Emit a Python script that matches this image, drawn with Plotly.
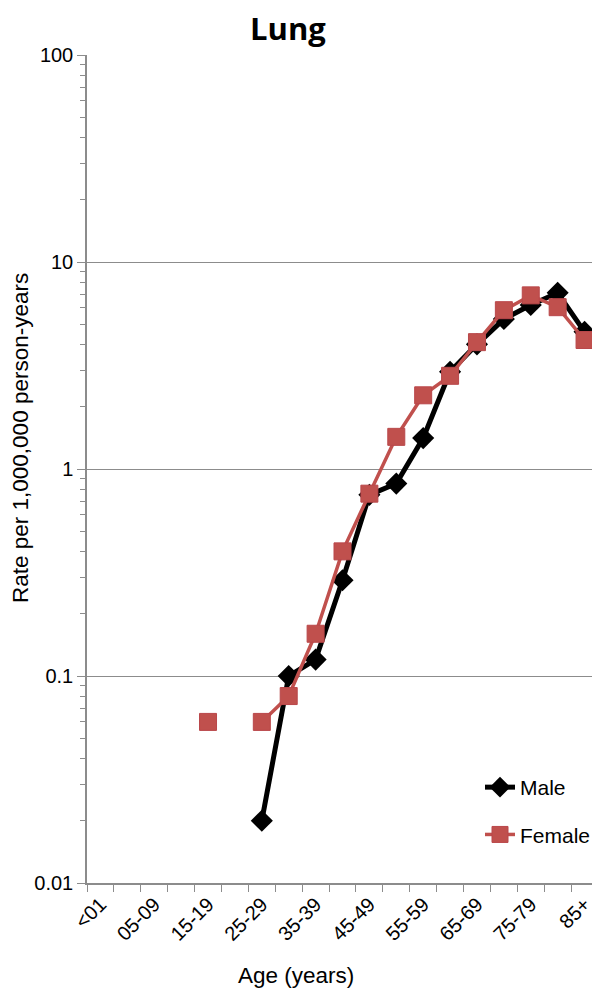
import plotly.graph_objects as go

age_groups = ["<01", "01-04", "05-09", "10-14", "15-19", "20-24", "25-29", "30-34",
              "35-39", "40-44", "45-49", "50-54", "55-59", "60-64", "65-69",
              "70-74", "75-79", "80-84", "85+"]

male = [None, None, None, None, None, None, 0.020, 0.10, 0.12, 0.29, 0.75, 0.85,
        1.41, 2.95, 4.0, 5.3, 6.2, 7.1, 4.6]
female = [None, None, None, None, 0.060, None, 0.060, 0.080, 0.16, 0.40, 0.76, 1.43,
          2.27, 2.82, 4.1, 5.85, 6.9, 6.05, 4.2]

# only every other age group gets a label
tick_text = [a if i % 2 == 0 else "" for i, a in enumerate(age_groups)]

# page body has an 8px margin, so everything is placed 8px up/left
OFF = 8
W, H = 600 - OFF, 989 - OFF
L, R, T, B = 87 - OFF, 2, 55 - OFF, 106
PW, PH = W - L - R, H - T - B
grey = "#8c8c8c"
font = "Liberation Sans, Arial, sans-serif"

def px_x(x):
    return (x - OFF - L) / PW

def px_y(y):
    return (H - B - (y - OFF)) / PH

fig = go.Figure()
fig.add_trace(go.Scatter(
    x=age_groups, y=male, name="Male", mode="lines+markers",
    line=dict(color="black", width=5),
    marker=dict(symbol="diamond", size=17, color="black"),
    connectgaps=False, legendgroup="m"))
fig.add_trace(go.Scatter(
    x=age_groups, y=female, name="Female", mode="lines+markers",
    line=dict(color="#C0504D", width=3.5),
    marker=dict(symbol="square", size=17, color="#C0504D",
                line=dict(color="#B9474A", width=1)),
    connectgaps=False, legendgroup="f"))

fig.update_layout(
    width=W, height=H,
    margin=dict(l=L, r=R, t=T, b=B),
    paper_bgcolor="white", plot_bgcolor="white",
    font=dict(family=font, size=20, color="black"),
    title=dict(text="<b>Lung</b>", x=(288 - OFF) / W, xanchor="center",
               y=1 - (29 - OFF) / H, yanchor="middle", yref="container",
               font=dict(family="Open Sans, sans-serif", size=31, color="black")),
    legend=dict(x=px_x(480), y=px_y(767),
                xanchor="left", yanchor="top", bgcolor="rgba(0,0,0,0)",
                tracegroupgap=17, font=dict(size=21)),
    showlegend=True,
)

fig.update_xaxes(
    type="category", categoryorder="array", categoryarray=age_groups,
    tickmode="array", tickvals=age_groups, ticktext=tick_text,
    tickson="boundaries", ticks="outside", ticklen=7, tickcolor=grey,
    tickangle=-45, tickfont=dict(size=20),
    showline=True, linecolor=grey, linewidth=1.5,
    showgrid=False, zeroline=False, range=[-0.5, 18.5])

fig.update_yaxes(
    type="log", range=[-2, 2], dtick=1, exponentformat="none",
    ticks="outside", ticklen=8, tickcolor=grey, tickfont=dict(size=20),
    minor=dict(ticks="outside", ticklen=5, tickcolor=grey, dtick="D1", showgrid=False),
    showline=True, linecolor=grey, linewidth=1.5,
    showgrid=True, gridcolor=grey, gridwidth=1.2, zeroline=False)

fig.add_annotation(text="Age (years)", x=px_x(296), y=px_y(975),
                   xref="paper", yref="paper", showarrow=False, font=dict(size=22.5),
                   xanchor="center", yanchor="middle")
fig.add_annotation(text="Rate per 1,000,000 person-years", x=px_x(21), y=px_y(438),
                   xref="paper", yref="paper", showarrow=False, textangle=-90,
                   font=dict(size=22.5), xanchor="center", yanchor="middle")

fig.write_html("out.html")
